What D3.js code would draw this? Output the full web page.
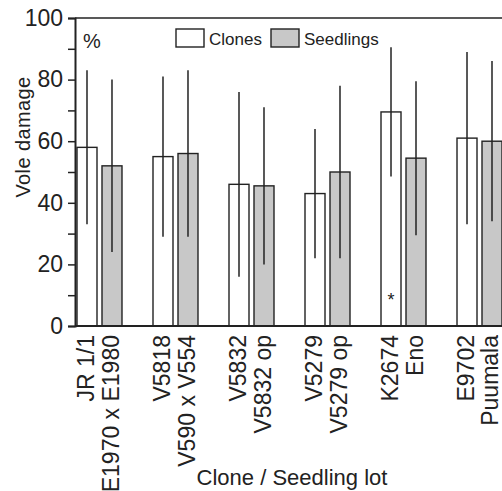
<!DOCTYPE html>
<html>
<head>
<meta charset="utf-8">
<script src="https://cdn.jsdelivr.net/npm/d3@7"></script>
<style>
  body { margin: 0; background: #fff; }
  text { font-family: "Liberation Sans", Arial, sans-serif; fill: #222; }
</style>
</head>
<body>
<div id="chart"></div>
<script>
// Data
const groups = ["g1", "g2", "g3", "g4", "g5", "g6"];
const cloneNames = ["JR 1/1", "V5818", "V5832", "V5279", "K2674", "E9702"];
const seedlingNames = ["E1970 x E1980", "V590 x V554", "V5832 op", "V5279 op", "Eno", "Puumala"];
const cloneMeans = [58, 55, 46, 43, 69.5, 61];
const cloneErr = [25, 26, 30, 21, 21, 28];
const seedlingMeans = [52, 56, 45.5, 50, 54.5, 60];
const seedlingErr = [28, 27, 25.5, 28, 25, 26];
const yTicks = [0, 10, 20, 30, 40, 50, 60, 70, 80, 90, 100];
const series = ["Clones", "Seedlings"];

const width = 502, height = 491;
const ink = "#222";

const svg = d3.select("#chart").append("svg")
  .attr("width", width)
  .attr("height", height);

// Scales
const y = d3.scaleLinear().domain([0, 100]).range([326, 18]);
const x0 = d3.scaleBand().domain(groups).range([77, 502]).paddingInner(0.408).paddingOuter(0);
const x1 = d3.scaleBand().domain(series).range([0, x0.bandwidth()]).paddingInner(0.2);
const fill = d3.scaleOrdinal().domain(series).range(["#fff", "#c8c8c8"]);

// Build rows for the bars
const rows = [];
groups.forEach((g, i) => {
  rows.push({ g, s: "Clones", v: cloneMeans[i], e: cloneErr[i], name: cloneNames[i] });
  rows.push({ g, s: "Seedlings", v: seedlingMeans[i], e: seedlingErr[i], name: seedlingNames[i] });
});

// Bars
svg.append("g").selectAll("rect")
  .data(rows)
  .join("rect")
  .attr("x", d => x0(d.g) + x1(d.s))
  .attr("y", d => y(d.v))
  .attr("width", x1.bandwidth())
  .attr("height", d => y(0) - y(d.v))
  .attr("fill", d => fill(d.s))
  .attr("stroke", ink)
  .attr("stroke-width", 1.4);

// Error bars (plain vertical lines, no caps)
svg.append("g").selectAll("line")
  .data(rows)
  .join("line")
  .attr("x1", d => x0(d.g) + x1(d.s) + x1.bandwidth() / 2)
  .attr("x2", d => x0(d.g) + x1(d.s) + x1.bandwidth() / 2)
  .attr("y1", d => y(d.v + d.e))
  .attr("y2", d => y(d.v - d.e))
  .attr("stroke", ink)
  .attr("stroke-width", 1.5);

// Significance mark on K2674
svg.append("text")
  .attr("x", x0("g5") + x1("Clones") + x1.bandwidth() / 2)
  .attr("y", y(6.5))
  .attr("text-anchor", "middle")
  .style("font-size", "18px")
  .text("*");

// Y axis
const yAxis = svg.append("g")
  .attr("transform", "translate(75,0)")
  .call(d3.axisLeft(y)
    .tickValues(yTicks)
    .tickSize(7)
    .tickPadding(5)
    .tickFormat(d => d % 20 === 0 ? d : ""));
yAxis.select(".domain").attr("stroke", ink).attr("stroke-width", 2);
yAxis.selectAll(".tick line").attr("stroke", ink).attr("stroke-width", 1.5);
yAxis.selectAll(".tick text")
  .attr("fill", ink)
  .style("font-family", "'Liberation Sans', Arial, sans-serif")
  .style("font-size", "23px");

// Frame: bottom and top lines
svg.append("line")
  .attr("x1", 75).attr("x2", width)
  .attr("y1", y(0)).attr("y2", y(0))
  .attr("stroke", ink).attr("stroke-width", 2);
svg.append("line")
  .attr("x1", 75).attr("x2", width)
  .attr("y1", y(100)).attr("y2", y(100))
  .attr("stroke", ink).attr("stroke-width", 1.5);

// Category labels, rotated; keep the last one inside the page
const labelX = d => {
  const cx = x0(d.g) + x1(d.s) + x1.bandwidth() / 2 - 1;
  return Math.min(cx, width - 12);
};
svg.append("g").selectAll("text")
  .data(rows)
  .join("text")
  .attr("transform", d => `translate(${labelX(d)},335) rotate(-90)`)
  .attr("text-anchor", "end")
  .attr("dy", "0.33em")
  .style("font-size", "23px")
  .text(d => d.name);

// Axis titles
svg.append("text")
  .attr("transform", "translate(30,137) rotate(-90)")
  .attr("text-anchor", "middle")
  .style("font-size", "20px")
  .style("letter-spacing", "0.4px")
  .text("Vole damage");

svg.append("text")
  .attr("x", 292)
  .attr("y", 485)
  .attr("text-anchor", "middle")
  .style("font-size", "22px")
  .text("Clone / Seedling lot");

svg.append("text")
  .attr("x", 83)
  .attr("y", 48)
  .style("font-size", "20px")
  .text("%");

// Legend
const legendX = [176, 271];
const legend = svg.append("g").selectAll("g")
  .data(series)
  .join("g")
  .attr("transform", (d, i) => `translate(${legendX[i]},29)`);
legend.append("rect")
  .attr("width", 28)
  .attr("height", 18)
  .attr("fill", d => fill(d))
  .attr("stroke", ink)
  .attr("stroke-width", 1.4);
legend.append("text")
  .attr("x", 33)
  .attr("y", 16)
  .style("font-size", "17px")
  .text(d => d);
</script>
</body>
</html>
